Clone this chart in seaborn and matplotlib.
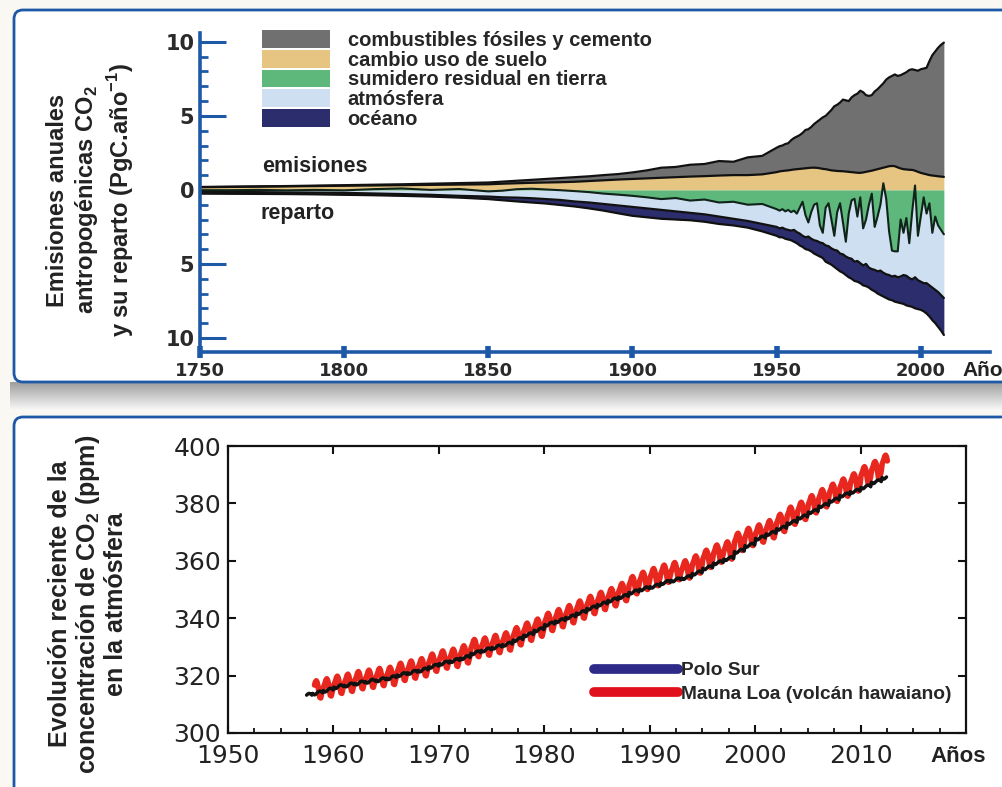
import numpy as np
import matplotlib
matplotlib.use('Agg')
import matplotlib.pyplot as plt
from matplotlib.patches import FancyBboxPatch, Patch
from matplotlib.lines import Line2D
from matplotlib.ticker import MultipleLocator, FixedLocator
import seaborn as sns

sns.set_theme(style='white')
plt.rcParams['font.family'] = ['Liberation Sans', 'DejaVu Sans']
plt.rcParams['mathtext.fontset'] = 'custom'
plt.rcParams['mathtext.rm'] = 'Liberation Sans'
plt.rcParams['mathtext.bf'] = 'Liberation Sans:bold'

W, H = 1003, 787

# ---- top panel: carbon budget (PgC/yr) ----
budget_years = (list(range(1750, 1850, 10)) + list(range(1850, 1950, 5))
                + list(range(1950, 2009)))

land_use = [
    0.18, 0.20, 0.22, 0.24, 0.26, 0.28, 0.30, 0.32, 0.34, 0.36,
    0.38, 0.42, 0.45, 0.48, 0.50, 0.52, 0.55, 0.60, 0.65, 0.70,
    0.74, 0.78, 0.82, 0.86, 0.90, 0.93, 0.97, 1.00, 1.00, 1.05,
    1.20, 1.25, 1.28, 1.30, 1.32, 1.35, 1.38, 1.40, 1.42, 1.44,
    1.46, 1.48, 1.50, 1.50, 1.49, 1.46, 1.42, 1.40, 1.36, 1.32,
    1.30, 1.28, 1.27, 1.26, 1.24, 1.22, 1.20, 1.18, 1.16, 1.15,
    1.18, 1.22, 1.26, 1.30, 1.35, 1.40, 1.45, 1.50, 1.55, 1.60,
    1.62, 1.60, 1.52, 1.45, 1.40, 1.38, 1.36, 1.35, 1.30, 1.22,
    1.15, 1.10, 1.05, 1.00, 0.97, 0.95, 0.92, 0.90, 0.88,
]
emission_total = [
    0.20, 0.22, 0.24, 0.26, 0.29, 0.32, 0.35, 0.38, 0.42, 0.46,
    0.50, 0.56, 0.62, 0.68, 0.74, 0.80, 0.86, 0.92, 1.00, 1.07,
    1.18, 1.32, 1.50, 1.55, 1.70, 1.75, 1.95, 1.90, 2.20, 2.30,
    2.85, 2.95, 3.00, 3.10, 3.15, 3.35, 3.50, 3.60, 3.70, 3.85,
    4.05, 4.10, 4.25, 4.45, 4.60, 4.75, 4.90, 5.00, 5.20, 5.40,
    5.65, 5.75, 5.90, 6.10, 6.05, 6.00, 6.25, 6.40, 6.50, 6.70,
    6.60, 6.40, 6.35, 6.40, 6.65, 6.80, 7.00, 7.20, 7.45, 7.60,
    7.70, 7.80, 7.70, 7.75, 7.85, 7.95, 8.10, 8.15, 8.10, 8.05,
    8.15, 8.20, 8.25, 8.70, 9.10, 9.35, 9.60, 9.80, 9.95,
]
# sinks, as magnitudes below zero
land_sink = [
    0.02, 0.02, 0.00, 0.03, 0.00, 0.03, -0.05, -0.10, 0.00, -0.06,
    0.10, 0.05, -0.05, -0.08, -0.03, 0.02, 0.08, 0.15, 0.25, 0.32,
    0.40, 0.50, 0.62, 0.55, 0.72, 0.65, 0.85, 0.80, 1.00, 0.95,
    1.30, 1.40, 1.30, 1.45, 1.35, 1.50, 1.40, 1.60, 1.20, 0.80,
    1.70, 2.20, 1.50, 1.00, 0.90, 2.40, 2.90, 1.20, 0.90, 2.00,
    3.10, 1.50, 0.90, 2.20, 3.50, 1.60, 0.70, 0.60, 1.80, 0.50,
    2.60, 2.00, 1.00, 0.25, 2.50, 1.80, 1.00, -0.45, 0.60, 2.80,
    4.10, 4.15, 4.15, 2.00, 2.90, 1.90, 3.60, 1.50, -0.30, 3.10,
    1.80, 0.50, 1.60, 0.90, 2.90, 1.80, 2.40, 2.70, 3.00,
]
land_atmos_level = [
    0.12, 0.14, 0.15, 0.17, 0.18, 0.20, 0.24, 0.28, 0.33, 0.40,
    0.45, 0.50, 0.52, 0.56, 0.62, 0.68, 0.78, 0.85, 0.95, 1.05,
    1.15, 1.25, 1.35, 1.45, 1.55, 1.65, 1.80, 1.95, 2.10, 2.30,
    2.50, 2.60, 2.55, 2.65, 2.70, 2.75, 2.70, 2.85, 2.95, 3.10,
    3.20, 3.15, 3.30, 3.40, 3.45, 3.55, 3.60, 3.75, 3.80, 3.95,
    4.05, 4.10, 4.30, 4.35, 4.50, 4.60, 4.65, 4.85, 4.80, 4.95,
    5.10, 5.00, 5.25, 5.35, 5.40, 5.50, 5.45, 5.60, 5.70, 5.75,
    5.85, 5.80, 5.90, 5.85, 5.75, 5.80, 5.95, 6.05, 5.90, 6.10,
    6.20, 6.30, 6.30, 6.45, 6.60, 6.75, 6.90, 7.10, 7.30,
]
sink_total = [
    0.25, 0.26, 0.27, 0.28, 0.30, 0.33, 0.36, 0.40, 0.45, 0.52,
    0.62, 0.70, 0.78, 0.85, 0.92, 1.02, 1.12, 1.25, 1.40, 1.58,
    1.75, 1.85, 1.95, 2.00, 2.05, 2.15, 2.30, 2.40, 2.55, 2.80,
    3.10, 3.20, 3.20, 3.30, 3.35, 3.40, 3.50, 3.60, 3.75, 3.85,
    4.00, 4.05, 4.15, 4.30, 4.40, 4.50, 4.60, 4.85, 4.95, 5.05,
    5.20, 5.35, 5.50, 5.60, 5.75, 5.90, 6.00, 6.15, 6.20, 6.30,
    6.45, 6.50, 6.60, 6.75, 6.85, 7.00, 7.10, 7.20, 7.30, 7.40,
    7.45, 7.55, 7.60, 7.65, 7.70, 7.80, 7.85, 7.90, 8.00, 8.05,
    8.10, 8.20, 8.35, 8.55, 8.80, 9.00, 9.25, 9.50, 9.80,
]
budget_labels = ['combustibles fósiles y cemento', 'cambio uso de suelo',
                 'sumidero residual en tierra', 'atmósfera', 'océano']
budget_colors = ['#707070', '#e6c583', '#5eb87b', '#cddff0', '#2b2d6c']

# ---- bottom panel: CO2 concentration (ppm) ----
mlo_years = list(range(1958, 2013))
mlo_annual = [
    315.3, 316.0, 316.9, 317.6, 318.5, 319.0, 319.6, 320.0, 321.4, 322.2,
    323.0, 324.6, 325.7, 326.3, 327.5, 329.7, 330.2, 331.1, 332.0, 333.8,
    335.4, 336.8, 338.8, 340.1, 341.5, 343.1, 344.7, 346.1, 347.4, 349.2,
    351.6, 353.1, 354.4, 355.6, 356.5, 357.1, 358.8, 360.8, 362.6, 363.7,
    366.7, 368.4, 369.6, 371.1, 373.3, 375.8, 377.5, 379.8, 381.9, 383.8,
    385.6, 387.4, 389.9, 391.7, 393.9,
]
mlo_season = [-0.2, 0.6, 1.4, 2.5, 2.9, 2.3, 0.9, -1.1, -2.9, -3.1, -1.8, -0.5]
spo_years = list(range(1957, 2013))
spo_annual = [
    313.2, 314.0, 315.0, 316.2, 316.8, 317.5, 318.1, 318.6, 319.3, 320.4,
    321.2, 322.0, 323.3, 324.4, 325.3, 326.3, 328.0, 329.0, 330.0, 331.0,
    332.6, 334.3, 336.0, 338.0, 339.2, 340.5, 342.0, 343.6, 345.0, 346.4,
    347.6, 349.2, 350.3, 351.2, 352.5, 353.4, 354.2, 355.8, 357.6, 359.4,
    360.8, 363.4, 365.5, 368.0, 369.6, 371.4, 373.4, 375.3, 377.2, 379.3,
    381.2, 383.0, 384.3, 385.8, 387.6, 389.2,
]
spo_season = [-0.2, -0.5, -0.7, -0.6, -0.3, 0.0, 0.3, 0.5, 0.6, 0.5, 0.3, 0.0]
mlo_span = (1958.2, 2012.6)
spo_span = (1957.4, 2012.5)


def monthly(years, annual, season, span):
    t = (np.array(years)[:, None] + (np.arange(12) + 0.5) / 12).ravel()
    v = (np.array(annual)[:, None] + np.array(season)[None, :]).ravel()
    keep = (t >= span[0]) & (t <= span[1])
    return t[keep], v[keep]


def px_axes(fig, left, top, right, bottom):
    return fig.add_axes([left / W, 1 - bottom / H, (right - left) / W,
                         (bottom - top) / H])


fig = plt.figure(figsize=(W / 100, H / 100), dpi=100, facecolor='#f9f8f2')

# background frames and shadow
bg = fig.add_axes([0, 0, 1, 1], zorder=-5)
bg.axis('off')
shade = np.linspace(0.62, 0.97, 40)[:, None] * np.ones((1, 3))
bg.imshow(shade[:, None, :], extent=(10, W, 410, 382), aspect='auto',
          interpolation='bilinear', zorder=0)
blue = '#1d59a6'
for y0, y1 in [(10, 382), (417, H + 30)]:
    bg.add_patch(FancyBboxPatch((14, y0), W + 40, y1 - y0,
                                boxstyle='round,pad=0,rounding_size=9',
                                facecolor='white', edgecolor=blue,
                                linewidth=2.0, zorder=1))
bg.set_xlim(0, W)
bg.set_ylim(H, 0)

# ---- top panel ----
ax = px_axes(fig, 200, 33, 990, 352)
ax.patch.set_alpha(0)
yrs = np.array(budget_years)
lu = np.array(land_use)
tot = np.array(emission_total)
ls = -np.array(land_sink)
la = -np.array(land_atmos_level)
st = -np.array(sink_total)

ax.fill_between(yrs, lu, tot, color=budget_colors[0], lw=0)
ax.fill_between(yrs, 0, lu, color=budget_colors[1], lw=0)
ax.fill_between(yrs, la, np.minimum(ls, 0), color=budget_colors[3], lw=0)
ax.fill_between(yrs, st, la, color=budget_colors[4], lw=0)
ax.fill_between(yrs, 0, ls, color=budget_colors[2], lw=0)
for line in [tot, lu, la, st]:
    sns.lineplot(x=yrs, y=line, ax=ax, color='#111111', lw=1.6,
                 estimator=None, sort=False)
sns.lineplot(x=yrs, y=ls, ax=ax, color='#10231a', lw=1.5,
             estimator=None, sort=False)

ax.set_xlim(1750, 2024)
ax.set_ylim(-10.95, 10.6)
for s in ['top', 'right']:
    ax.spines[s].set_visible(False)
for s in ['left', 'bottom']:
    ax.spines[s].set_color(blue)
    ax.spines[s].set_linewidth(2.6)
ax.set_xticks([1750, 1800, 1850, 1900, 1950, 2000])
ax.set_yticks([10, 5, 0, -5, -10])
ax.set_yticklabels(['10', '5', '0', '5', '10'])
ax.yaxis.set_minor_locator(FixedLocator(
    [v for v in range(-10, 11) if v % 5 != 0]))
ax.tick_params(axis='y', which='major', direction='in', length=19,
               width=2.2, color=blue, pad=4, labelsize=15,
               labelcolor='#2a2a2a', left=True)
ax.tick_params(axis='y', which='minor', direction='in', length=5.5,
               width=2.0, color=blue, left=True)
ax.tick_params(axis='x', which='major', direction='inout', length=9,
               width=4, color=blue, pad=3, labelsize=13,
               labelcolor='#2a2a2a', bottom=True)
for lab in ax.get_xticklabels() + ax.get_yticklabels():
    lab.set_fontweight('bold')
    lab.set_fontfamily('DejaVu Sans')
ax.set_xlabel('')
ax.set_ylabel('')

ax.text(1771.5, 1.55, 'emisiones', fontsize=15.5, fontweight='bold',
        color='#222222', va='center', ha='left')
ax.text(1771.0, -1.6, 'reparto', fontsize=15.5, fontweight='bold',
        color='#222222', va='center', ha='left')

handles = [Patch(facecolor=c, edgecolor='none') for c in budget_colors]
ax.legend(handles, budget_labels, loc='upper left',
          bbox_to_anchor=(262 / W, 1 - 30 / H), bbox_transform=fig.transFigure,
          frameon=False, handlelength=3.4, handleheight=0.98,
          labelspacing=0.0, handletextpad=0.85, borderpad=0, borderaxespad=0,
          prop={'weight': 'bold', 'size': 14.5})

fig.text(91 / W, 1 - 200 / H,
         'Emisiones anuales\nantropogénicas CO$_\\mathbf{2}$\n'
         'y su reparto (PgC.año$^\\mathbf{-1}$)',
         rotation=90, ha='center', va='center', fontsize=17,
         fontweight='bold', color='#222222', linespacing=1.2)
fig.text(962 / W, 1 - 371 / H, 'Años', fontsize=15, fontweight='bold',
         color='#222222', ha='left', va='center')

# ---- bottom panel ----
bx = px_axes(fig, 228, 446, 966, 733)
bx.set_facecolor('white')
t_spo, v_spo = monthly(spo_years, spo_annual, spo_season, spo_span)
t_mlo, v_mlo = monthly(mlo_years, mlo_annual, mlo_season, mlo_span)
sns.lineplot(x=t_mlo, y=v_mlo, ax=bx, color='#e8281f', lw=4.0,
             estimator=None, sort=False)
sns.lineplot(x=t_spo, y=v_spo, ax=bx, color='#111111', lw=2.5,
             estimator=None, sort=False)
bx.set_xlim(1950, 2020)
bx.set_ylim(300, 400)
bx.set_xticks(range(1950, 2011, 10))
bx.xaxis.set_minor_locator(MultipleLocator(2.5))
bx.set_yticks(range(300, 401, 20))
for s in bx.spines.values():
    s.set_color('#111111')
    s.set_linewidth(1.6)
bx.tick_params(axis='both', which='major', direction='in', length=6,
               width=1.5, color='#111111', labelsize=18,
               labelcolor='#222222', top=True, right=True, bottom=True,
               left=True)
bx.tick_params(axis='x', which='major', pad=8)
bx.tick_params(axis='y', which='major', pad=5)
bx.tick_params(axis='x', which='minor', direction='in', length=3.5,
               width=1.3, color='#111111', bottom=True, top=False)
for lab in bx.get_xticklabels() + bx.get_yticklabels():
    lab.set_fontfamily('DejaVu Sans')
bx.set_xlabel('')
bx.set_ylabel('')

lh = [Line2D([0], [0], color='#2e2a88', lw=7, solid_capstyle='round'),
      Line2D([0], [0], color='#e0101c', lw=7, solid_capstyle='round')]
bx.legend(lh, ['Polo Sur', 'Mauna Loa (volcán hawaiano)'], loc='upper left',
          bbox_to_anchor=(594 / W, 1 - 662 / H), bbox_transform=fig.transFigure,
          frameon=False, handlelength=4.4, handletextpad=0.15,
          labelspacing=0.32, borderpad=0, borderaxespad=0,
          prop={'weight': 'bold', 'size': 13.8})

fig.text(88 / W, 1 - 604 / H,
         'Evolución reciente de la\nconcentración de CO$_\\mathbf{2}$ (ppm)\n'
         'en la atmósfera',
         rotation=90, ha='center', va='center', fontsize=18,
         fontweight='bold', color='#222222', linespacing=1.1)
fig.text(930 / W, 1 - 757 / H, 'Años', fontsize=16, fontweight='bold',
         color='#222222', ha='left', va='center')

fig.savefig('out.png', dpi=100, facecolor=fig.get_facecolor())
